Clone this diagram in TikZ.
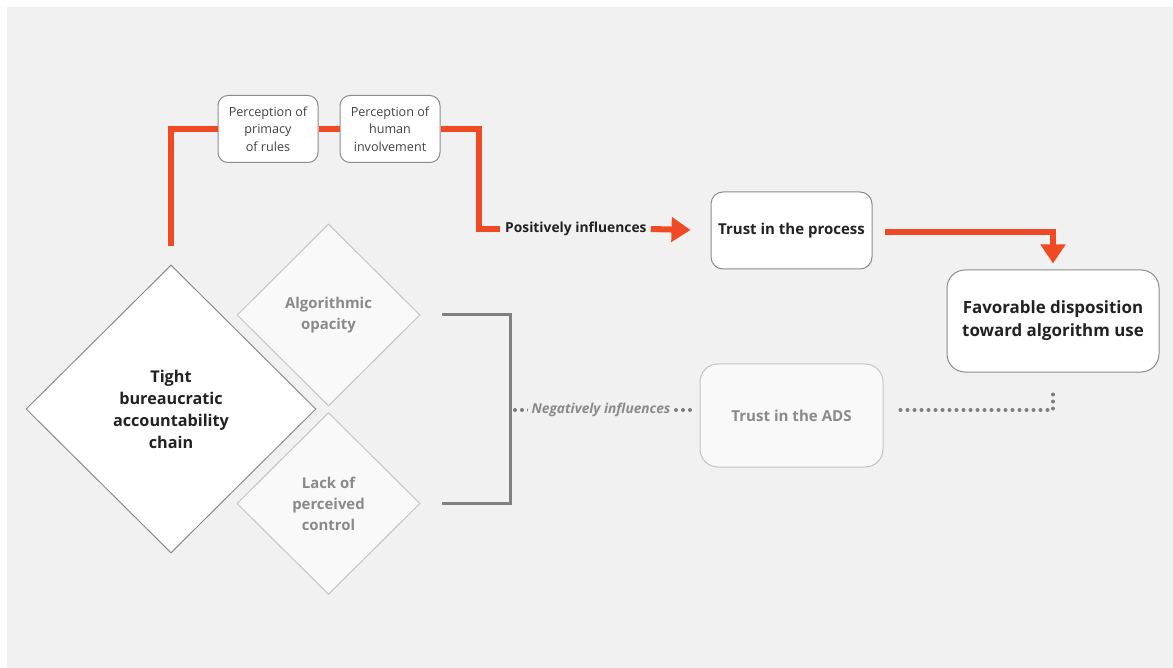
\documentclass[tikz,border=0pt]{standalone}
\usepackage{fontspec}
\setmainfont{Open Sans}
\usetikzlibrary{shapes.geometric,arrows.meta}
\definecolor{bgc}{HTML}{F1F1F1}
\definecolor{orng}{HTML}{F04A24}
\definecolor{darktxt}{HTML}{222222}
\definecolor{greytxt}{HTML}{8A8A8A}
\definecolor{bordergrey}{HTML}{8C8C8C}
\definecolor{lightborder}{HTML}{C4C4C4}
\definecolor{lightfill}{HTML}{F9F9F9}
\definecolor{brackc}{HTML}{808080}
\definecolor{dotc}{HTML}{7E7E7E}
\tikzset{
  smallbox/.style={draw=bordergrey, line width=1pt, fill=white, rounded corners=10pt,
    minimum width=100pt, minimum height=67pt, align=center, inner sep=0pt,
    font=\fontsize{12.6}{17.5}\selectfont, text=darktxt!85},
  mainbox/.style={draw=bordergrey, line width=1pt, fill=white, align=center, inner sep=0pt,
    text=darktxt, font=\bfseries},
  adsbox/.style={draw=lightborder, line width=1pt, fill=lightfill, rounded corners=18pt,
    minimum width=183pt, minimum height=103pt, align=center, inner sep=0pt,
    text=greytxt, font=\fontsize{15.1}{18}\bfseries},
  bigdiam/.style={diamond, draw=bordergrey, line width=1pt, fill=white, inner sep=0pt,
    minimum width=290pt, minimum height=288pt, align=center, text=darktxt,
    font=\fontsize{16.2}{22}\bfseries},
  smalldiam/.style={diamond, draw=lightborder, line width=1pt, fill=lightfill, inner sep=0pt,
    minimum width=183pt, minimum height=182pt, align=center, text=greytxt,
    font=\fontsize{14.9}{21}\bfseries},
  orangeline/.style={draw=orng, line width=6pt},
  orangearrow/.style={orangeline, -{Triangle[length=19pt,width=24pt]}},
  greybracket/.style={draw=brackc, line width=3pt},
  dotline/.style={draw=dotc, line width=4pt, line cap=round, dash pattern=on 0pt off 7pt},
  poslabel/.style={font=\fontsize{13.8}{16}\bfseries, text=darktxt, inner sep=0pt},
  neglabel/.style={font=\fontsize{13.7}{16}\bfseries\itshape, text=greytxt, fill=bgc, inner xsep=4pt, inner ysep=2pt}
}
\begin{document}
\begin{tikzpicture}[x=1pt,y=-1pt]
\useasboundingbox (0,0) rectangle (1173,668);
\fill[bgc] (7,7) rectangle (1173,668);

% nodes
\node[smallbox] (p1) at (268,129) {Perception of\\primacy\\of rules};
\node[smallbox] (p2) at (390,129) {Perception of\\human\\involvement};
\node[poslabel, anchor=west] (pos) at (505,229) {Positively influences};
\node[mainbox, rounded corners=12pt, minimum width=161pt, minimum height=77pt,
  font=\fontsize{15}{18}\bfseries] (tp) at (791.5,230.5) {Trust in the process};
\node[mainbox, rounded corners=18pt, minimum width=212pt, minimum height=102pt,
  font=\fontsize{16.9}{23}\bfseries] (fav) at (1053,321) {Favorable disposition\\toward algorithm use};
\node[adsbox] (ads) at (791.5,415.5) {Trust in the ADS};

\node[bigdiam] (big) at (171,409) {Tight\\bureaucratic\\accountability\\chain};
\node[smalldiam] (alg) at (328.5,315) {Algorithmic\\opacity};
\node[smalldiam] (lack) at (328.5,503.5) {Lack of\\perceived\\control};

% orange path
\coordinate (turn) at (479,129);
\draw[orangeline, line join=miter] ([yshift=18pt]big.north) |- (p1.west);
\draw[orangeline] (p1.east) -- (p2.west);
\draw[orangeline, line join=miter] (p2.east) -- (turn) |- ([xshift=-5pt]pos.west);
\draw[orangearrow, shorten >=20pt] ([xshift=4pt]pos.east) -- (tp.west);
\draw[orangearrow, shorten >=6pt, line join=miter] ([xshift=12pt,yshift=-1.5pt]tp.east) -| (fav.north);

% grey bracket
\coordinate (bx) at (510,410);
\draw[greybracket, line join=miter] ([xshift=21pt]alg.east) -| (bx) |- ([xshift=21pt]lack.east);

% dotted negative influence
\draw[dotline, shorten <=5pt, shorten >=7pt] (bx) -- (ads.west |- bx);
\node[neglabel] (neg) at (601,410) {Negatively influences};
\coordinate (rc) at (1053,410);
\draw[dotline, shorten >=16pt] ([xshift=17pt]ads.east |- rc) -- (rc) -- (fav.south);
\end{tikzpicture}
\end{document}
